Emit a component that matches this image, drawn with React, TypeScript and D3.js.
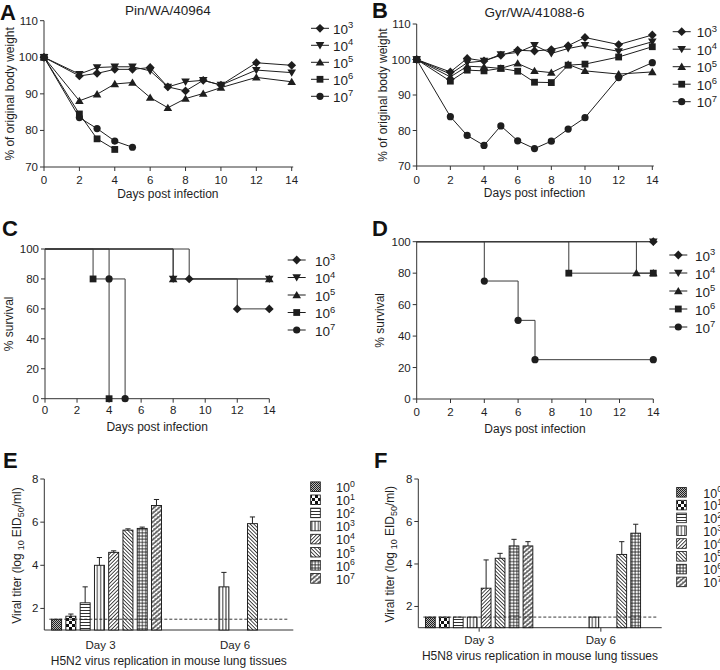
import React from "react";
import * as d3 from "d3";

const FONT = "'Liberation Sans', Arial, Helvetica, sans-serif";
const INK = "#1e1e1e";
const AXIS = "#333";

// ---------- data ----------
const weightDays = [0, 2, 3, 4, 5, 6, 7, 8, 9, 10, 12, 14];
const doseExp = ["3", "4", "5", "6", "7"];

// Panel A: Pin/WA/40964 body weight (%)
const pinW3 = [100, 94.9, 95.6, 96.7, 96.7, 97.2, 91.9, 90.8, 93.7, 92.4, 98.5, 97.8];
const pinW4 = [100, 95.4, 97.2, 97.4, 97.4, 96.3, 91.9, 93.3, 93.7, 92.4, 96.5, 95.8];
const pinW5 = [100, 88.1, 89.9, 92.7, 93.1, 89.0, 86.2, 88.7, 90.1, 91.7, 94.5, 93.3];
const pinW6 = [100, 84.5, 77.7, 74.8];
const pinW7 = [100, 83.5, 80.5, 77.1, 75.4];

// Panel B: Gyr/WA/41088-6 body weight (%)
const gyrW3 = [100, 96.5, 100.3, 99.6, 101.2, 102.6, 102.4, 102.8, 103.9, 106.2, 104.2, 106.9];
const gyrW4 = [100, 95.9, 99.1, 99.6, 101.4, 102.0, 104.0, 101.7, 103.1, 104.0, 102.3, 105.0];
const gyrW5 = [100, 95.1, 98.1, 97.9, 97.5, 98.9, 96.8, 96.3, 98.6, 96.8, 95.9, 96.5];
const gyrW6 = [100, 93.9, 97.0, 96.8, 97.5, 96.7, 93.6, 93.5, 98.4, 98.7, 100.7, 103.6];
const gyrW7 = [100, 83.9, 78.6, 75.8, 81.3, 77.1, 74.9, 77.0, 80.4, 83.6, 94.9, 99.1];

// Panel C: survival (day, %)
const pinS3: [number, number][] = [[0, 100], [9, 80], [12, 60], [14, 60]];
const pinS4: [number, number][] = [[0, 100], [8, 80], [14, 80]];
const pinS5: [number, number][] = [[0, 100], [8, 80], [14, 80]];
const pinS6: [number, number][] = [[0, 100], [3, 80], [4, 0]];
const pinS7: [number, number][] = [[0, 100], [4, 80], [5, 0]];

// Panel D: survival (day, %)
const gyrS3: [number, number][] = [[0, 100], [14, 100]];
const gyrS4: [number, number][] = [[0, 100], [14, 100]];
const gyrS5: [number, number][] = [[0, 100], [13, 80], [14, 80]];
const gyrS6: [number, number][] = [[0, 100], [9, 80], [14, 80]];
const gyrS7: [number, number][] = [[0, 100], [4, 75], [6, 50], [7, 25], [14, 25]];

// Panels E / F: viral titers
const titerDoses = ["0", "1", "2", "3", "4", "5", "6", "7"];
const dayGroups = ["Day 3", "Day 6"];
const detectionLimit = 1.5;
const h5n2Day3 = [1.5, 1.64, 2.26, 4.0, 4.6, 5.63, 5.71, 6.77];
const h5n2Day3Err = [0, 0.1, 0.74, 0.36, 0.07, 0.06, 0.06, 0.28];
const h5n2Day6 = [null, null, null, 3.0, null, 5.93, null, null];
const h5n2Day6Err = [0, 0, 0, 0.67, 0, 0.31, 0, 0];
const h5n8Day3 = [1.5, 1.5, 1.5, 1.5, 2.86, 4.27, 4.85, 4.85];
const h5n8Day3Err = [0, 0, 0, 0, 1.33, 0.23, 0.31, 0.2];
const h5n8Day6 = [null, null, null, 1.5, null, 4.45, 5.45, null];
const h5n8Day6Err = [0, 0, 0, 0, 0, 0.6, 0.42, 0];

const weightYTicks = [70, 80, 90, 100, 110];
const dayTicks = [0, 2, 4, 6, 8, 10, 12, 14];
const survYTicks = [0, 20, 40, 60, 80, 100];
const titerYTicks = [2, 4, 6, 8];

// ---------- helpers ----------
function Marker({ kind, x, y }: { kind: number; x: number; y: number }) {
  const t = `translate(${x},${y})`;
  if (kind === 0) return <path transform={t} d="M0,-4.4L4.4,0L0,4.4L-4.4,0Z" fill={INK} />;
  if (kind === 1) return <path transform={t} d="M-4.3,-3.2L4.3,-3.2L0,4.1Z" fill={INK} />;
  if (kind === 2) return <path transform={t} d="M-4.3,3.2L4.3,3.2L0,-4.1Z" fill={INK} />;
  if (kind === 3) return <rect x={x - 3.4} y={y - 3.4} width={6.8} height={6.8} fill={INK} />;
  return <circle cx={x} cy={y} r={3.6} fill={INK} />;
}

function AxisLeft({ scale, ticks, x, fs = 11.5 }: any) {
  const [r0, r1] = scale.range();
  return (
    <g>
      <line x1={x} x2={x} y1={r0} y2={r1} stroke={AXIS} />
      {ticks.map((t: number) => (
        <g key={t}>
          <line x1={x - 4} x2={x} y1={scale(t)} y2={scale(t)} stroke={AXIS} />
          <text x={x - 6} y={scale(t)} dy="0.35em" textAnchor="end" fontSize={fs} fill={INK}>
            {t}
          </text>
        </g>
      ))}
    </g>
  );
}

function AxisBottom({ scale, ticks, y, labelY, fs = 11.5, x1 }: any) {
  const [r0, r1] = scale.range();
  return (
    <g>
      <line x1={r0} x2={x1 ?? r1} y1={y} y2={y} stroke={AXIS} />
      {ticks.map((t: number) => (
        <g key={t}>
          <line x1={scale(t)} x2={scale(t)} y1={y} y2={y + 4} stroke={AXIS} />
          <text x={scale(t)} y={labelY} dy="0.35em" textAnchor="middle" fontSize={fs} fill={INK}>
            {t}
          </text>
        </g>
      ))}
    </g>
  );
}

function Power({ x, y, exp, fs = 13.5, anchor = "start" }: any) {
  return (
    <text x={x} y={y} dy="0.35em" fontSize={fs} fill={INK} textAnchor={anchor}>
      10
      <tspan dy={-fs * 0.42} fontSize={fs * 0.7}>
        {exp}
      </tspan>
    </text>
  );
}

function LineLegend({ mx, lx, y0, dy }: any) {
  return (
    <g>
      {doseExp.map((e, i) => {
        const y = y0 + i * dy;
        return (
          <g key={e}>
            <line x1={mx - 9} x2={mx + 9} y1={y} y2={y} stroke={INK} />
            <Marker kind={i} x={mx} y={y} />
            <Power x={lx} y={y + 1} exp={e} />
          </g>
        );
      })}
    </g>
  );
}

function PanelLetter({ x, y, t }: any) {
  return (
    <text x={x} y={y} fontSize={22} fontWeight="bold" fill="#111">
      {t}
    </text>
  );
}

function WeightPanel({ xs, ys, series, title, titleY, yTitleX, legend, tickY, xTitleY }: any) {
  const line = d3
    .line<number>()
    .x((_, i) => xs(weightDays[i]))
    .y((d) => ys(d));
  const [x0, x1] = xs.range();
  const [yb, yt] = ys.range();
  return (
    <g>
      <AxisLeft scale={ys} ticks={weightYTicks} x={x0} />
      <AxisBottom scale={xs} ticks={dayTicks} y={yb} labelY={tickY} x1={x1 + 1.5} />
      {series.map((s: number[], k: number) => (
        <path key={k} d={line(s) || ""} fill="none" stroke={INK} strokeWidth={1} />
      ))}
      {series.map((s: number[], k: number) =>
        s.map((v, i) => <Marker key={k + "-" + i} kind={k} x={xs(weightDays[i])} y={ys(v)} />)
      )}
      <text x={(x0 + x1) / 2} y={titleY} dy="0.35em" textAnchor="middle" fontSize={13.5} fill={INK}>
        {title}
      </text>
      <text
        transform={`translate(${yTitleX},${(yb + yt) / 2}) rotate(-90)`}
        dy="0.35em"
        textAnchor="middle"
        fontSize={12}
        fill={INK}
      >
        % of original body weight
      </text>
      <text x={(x0 + x1) / 2} y={xTitleY} dy="0.35em" textAnchor="middle" fontSize={12} fill={INK}>
        Days post infection
      </text>
      <LineLegend {...legend} />
    </g>
  );
}

function SurvivalPanel({ xs, ys, series, yTitleX, legend, tickY, xTitleY }: any) {
  const line = d3
    .line<[number, number]>()
    .curve(d3.curveStepAfter)
    .x((d) => xs(d[0]))
    .y((d) => ys(d[1]));
  const [x0, x1] = xs.range();
  const [yb, yt] = ys.range();
  return (
    <g>
      <AxisLeft scale={ys} ticks={survYTicks} x={x0} />
      <AxisBottom scale={xs} ticks={dayTicks} y={yb} labelY={tickY} />
      {series.map((s: [number, number][], k: number) => (
        <path key={k} d={line(s) || ""} fill="none" stroke="#3a3a3a" strokeWidth={1} />
      ))}
      {series.map((s: [number, number][], k: number) =>
        s.slice(1).map((p, i) => <Marker key={k + "-" + i} kind={k} x={xs(p[0])} y={ys(p[1])} />)
      )}
      <text
        transform={`translate(${yTitleX},${(yb + yt) / 2}) rotate(-90)`}
        dy="0.35em"
        textAnchor="middle"
        fontSize={12}
        fill={INK}
      >
        % survival
      </text>
      <text x={(x0 + x1) / 2} y={xTitleY} dy="0.35em" textAnchor="middle" fontSize={12} fill={INK}>
        Days post infection
      </text>
      <LineLegend {...legend} />
    </g>
  );
}

function Patterns() {
  const S = "#1a1a1a";
  return (
    <defs>
      <pattern id="pat0" patternUnits="userSpaceOnUse" width={2} height={2}>
        <rect width={2} height={2} fill="#b8b8b8" />
        <rect width={1} height={1} fill="#202020" />
        <rect x={1} y={1} width={1} height={1} fill="#202020" />
      </pattern>
      <pattern id="pat1" patternUnits="userSpaceOnUse" width={6} height={6}>
        <rect width={6} height={6} fill="#fff" />
        <rect width={3} height={3} fill="#111" />
        <rect x={3} y={3} width={3} height={3} fill="#111" />
      </pattern>
      <pattern id="pat2" patternUnits="userSpaceOnUse" width={4} height={3}>
        <rect width={4} height={3} fill="#fff" />
        <line x1={0} x2={4} y1={1.5} y2={1.5} stroke={S} strokeWidth={0.9} />
      </pattern>
      <pattern id="pat3" patternUnits="userSpaceOnUse" width={3.3} height={4}>
        <rect width={3.3} height={4} fill="#fff" />
        <line x1={1.6} x2={1.6} y1={0} y2={4} stroke={S} strokeWidth={0.9} />
      </pattern>
      <pattern id="pat4" patternUnits="userSpaceOnUse" width={2.6} height={4} patternTransform="rotate(45)">
        <rect width={2.6} height={4} fill="#fff" />
        <line x1={1.3} x2={1.3} y1={0} y2={4} stroke={S} strokeWidth={0.85} />
      </pattern>
      <pattern id="pat5" patternUnits="userSpaceOnUse" width={2.6} height={4} patternTransform="rotate(-45)">
        <rect width={2.6} height={4} fill="#fff" />
        <line x1={1.3} x2={1.3} y1={0} y2={4} stroke={S} strokeWidth={0.85} />
      </pattern>
      <pattern id="pat6" patternUnits="userSpaceOnUse" width={3.2} height={3.2}>
        <rect width={3.2} height={3.2} fill="#fff" />
        <line x1={1.6} x2={1.6} y1={0} y2={3.2} stroke={S} strokeWidth={0.8} />
        <line x1={0} x2={3.2} y1={1.6} y2={1.6} stroke={S} strokeWidth={0.8} />
      </pattern>
      <pattern id="pat7" patternUnits="userSpaceOnUse" width={3.4} height={3.4} patternTransform="rotate(50)">
        <rect width={3.4} height={3.4} fill="#fff" />
        <line x1={1.7} x2={1.7} y1={0} y2={3.4} stroke={S} strokeWidth={1.1} />
        <line x1={0} x2={1.2} y1={0.8} y2={0.8} stroke={S} strokeWidth={0.6} />
      </pattern>
    </defs>
  );
}

function TiterPanel({ xr, ys, day3, day3Err, day6, day6Err, yTitleX, tickY, xTitleY, title, legend, labelShift, showTicks }: any) {
  const group = d3.scaleBand().domain(dayGroups).range(xr).paddingInner(0.01).paddingOuter(0.005);
  const inner = d3
    .scaleBand()
    .domain(titerDoses)
    .range([0, group.bandwidth()])
    .paddingInner(0.3)
    .paddingOuter(0.47);
  const [yb, yt] = ys.range();
  const base = ys(ys.domain()[0]);
  const groups = [
    { g: dayGroups[0], vals: day3, errs: day3Err },
    { g: dayGroups[1], vals: day6, errs: day6Err },
  ];
  return (
    <g>
      <AxisLeft scale={ys} ticks={titerYTicks} x={xr[0]} />
      <line x1={xr[0]} x2={xr[1]} y1={yb} y2={yb} stroke={AXIS} />
      {groups.map(({ g, vals, errs }) =>
        vals.map((v: number | null, i: number) => {
          if (v == null) return null;
          const x = (group(g) as number) + (inner(titerDoses[i]) as number);
          const w = inner.bandwidth();
          const top = ys(v);
          const e = errs[i];
          return (
            <g key={g + i}>
              <rect x={x} y={top} width={w} height={base - top} fill={`url(#pat${i})`} stroke="#111" strokeWidth={0.9} />
              {e > 0 && (
                <g stroke="#222" strokeWidth={1}>
                  <line x1={x + w / 2} x2={x + w / 2} y1={top} y2={ys(v + e)} />
                  <line x1={x + w / 2 - 2.6} x2={x + w / 2 + 2.6} y1={ys(v + e)} y2={ys(v + e)} />
                </g>
              )}
            </g>
          );
        })
      )}
      <line
        x1={xr[0] + 5}
        x2={xr[1] - 5}
        y1={ys(detectionLimit)}
        y2={ys(detectionLimit)}
        stroke="#222"
        strokeWidth={0.9}
        strokeDasharray="3,2"
      />
      {dayGroups.map((g, k) => {
        const cx = (group(g) as number) + group.bandwidth() / 2;
        return (
          <g key={g}>
            {showTicks && <line x1={cx} x2={cx} y1={yb} y2={yb + 4} stroke={AXIS} />}
            <text x={cx + labelShift[k]} y={tickY} dy="0.35em" textAnchor="middle" fontSize={11.5} fill={INK}>
              {g}
            </text>
          </g>
        );
      })}
      <text
        transform={`translate(${yTitleX},${(yb + yt) / 2 + 1}) rotate(-90)`}
        dy="0.35em"
        textAnchor="middle"
        fontSize={12}
        fill={INK}
      >
        Viral titer (log
        <tspan dx={3} dy={3} fontSize={9}>10</tspan>
        <tspan dx={3} dy={-3}>EID</tspan>
        <tspan dy={3} fontSize={9}>50</tspan>
        <tspan dy={-3}>/ml)</tspan>
      </text>
      <text x={(xr[0] + xr[1]) / 2} y={xTitleY} dy="0.35em" textAnchor="middle" fontSize={12} fill={INK}>
        {title}
      </text>
      <g>
        {titerDoses.map((d, i) => {
          const y = legend.y0 + i * legend.dy;
          return (
            <g key={d}>
              <rect x={legend.sx} y={y - 4.8} width={9.6} height={9.6} fill={`url(#pat${i})`} stroke="#111" strokeWidth={0.8} />
              <Power x={legend.lx} y={y + 1} exp={d} fs={12.5} />
            </g>
          );
        })}
      </g>
    </g>
  );
}

export default function App() {
  const axA = d3.scaleLinear().domain([0, 14]).range([44, 291.7]);
  const ayA = d3.scaleLinear().domain([70, 110]).range([167, 20.7]);
  const axB = d3.scaleLinear().domain([0, 14]).range([416.7, 652.3]);
  const ayB = d3.scaleLinear().domain([70, 110]).range([166, 24]);
  const axC = d3.scaleLinear().domain([0, 14]).range([45, 269.3]);
  const ayC = d3.scaleLinear().domain([0, 100]).range([398.7, 249]);
  const axD = d3.scaleLinear().domain([0, 14]).range([416.7, 653.3]);
  const ayD = d3.scaleLinear().domain([0, 100]).range([399, 241.7]);
  const ayE = d3.scaleLinear().domain([1, 8]).range([630, 479]);
  const ayF = d3.scaleLinear().domain([1, 8]).range([627.7, 479]);

  return (
    <svg
      width={720}
      height={670}
      style={{ position: "absolute", left: 0, top: 0, display: "block" }}
      fontFamily={FONT}
    >
      <rect width={720} height={670} fill="#fff" />
      <Patterns />

      <PanelLetter x={0} y={20} t="A" />
      <WeightPanel
        xs={axA}
        ys={ayA}
        series={[pinW3, pinW4, pinW5, pinW6, pinW7]}
        title="Pin/WA/40964"
        titleY={10}
        yTitleX={10}
        tickY={180}
        xTitleY={193.3}
        legend={{ mx: 320, lx: 333, y0: 28.3, dy: 17 }}
      />

      <PanelLetter x={372} y={18} t="B" />
      <WeightPanel
        xs={axB}
        ys={ayB}
        series={[gyrW3, gyrW4, gyrW5, gyrW6, gyrW7]}
        title="Gyr/WA/41088-6"
        titleY={12}
        yTitleX={383}
        tickY={180}
        xTitleY={192.7}
        legend={{ mx: 681.7, lx: 696.7, y0: 31.7, dy: 17.5 }}
      />

      <PanelLetter x={2} y={236} t="C" />
      <SurvivalPanel
        xs={axC}
        ys={ayC}
        series={[pinS3, pinS4, pinS5, pinS6, pinS7]}
        yTitleX={8.5}
        tickY={410}
        xTitleY={426.7}
        legend={{ mx: 296.7, lx: 315, y0: 260, dy: 17.5 }}
      />

      <PanelLetter x={372} y={236} t="D" />
      <SurvivalPanel
        xs={axD}
        ys={ayD}
        series={[gyrS3, gyrS4, gyrS5, gyrS6, gyrS7]}
        yTitleX={380}
        tickY={412}
        xTitleY={428.3}
        legend={{ mx: 678.3, lx: 695, y0: 255, dy: 18 }}
      />

      <PanelLetter x={3} y={468} t="E" />
      <TiterPanel
        xr={[44.3, 293.3]}
        ys={ayE}
        day3={h5n2Day3}
        day3Err={h5n2Day3Err}
        day6={h5n2Day6}
        day6Err={h5n2Day6Err}
        yTitleX={16.7}
        tickY={645}
        xTitleY={660.7}
        title="H5N2 virus replication in mouse lung tissues"
        legend={{ sx: 310.7, lx: 336, y0: 486.7, dy: 13.1 }}
        labelShift={[-6, 4]}
        showTicks={false}
      />

      <PanelLetter x={374} y={468} t="F" />
      <TiterPanel
        xr={[418.3, 661.7]}
        ys={ayF}
        day3={h5n8Day3}
        day3Err={h5n8Day3Err}
        day6={h5n8Day6}
        day6Err={h5n8Day6Err}
        yTitleX={389.3}
        tickY={639.5}
        xTitleY={656}
        title="H5N8 virus replication in mouse lung tissues"
        legend={{ sx: 676.7, lx: 703.3, y0: 492.3, dy: 12.8 }}
        labelShift={[0, 0]}
        showTicks={true}
      />
    </svg>
  );
}
